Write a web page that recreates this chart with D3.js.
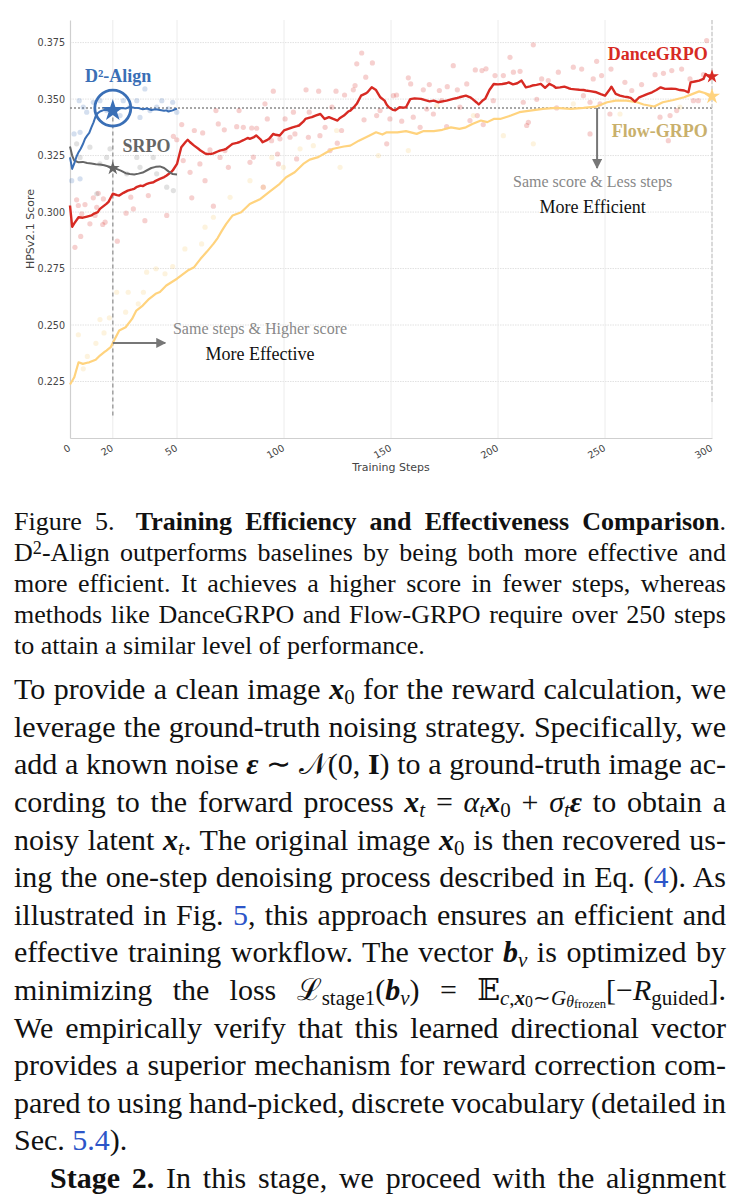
<!DOCTYPE html>
<html>
<head>
<meta charset="utf-8">
<script src="https://cdn.jsdelivr.net/npm/d3@7"></script>
<style>
  body { margin: 0; background: #fff; width: 740px; height: 1196px; overflow: hidden; position: relative;
         font-family: "Liberation Serif", "Times New Roman", serif; color: #111; }
  #chart { position: absolute; left: 0; top: 0; }
  .ln { position: absolute; left: 14px; width: 712px; white-space: nowrap; }
  .cap { font-size: 26px; line-height: 31px; }
  .body { font-size: 30px; line-height: 37.6px; }
  .ln span.t { display: inline-block; }
  sub { font-size: 0.7em; vertical-align: -0.22em; line-height: 0; }
  sub sub { font-size: 0.75em; vertical-align: -0.15em; }
  sub sub sub { font-size: 0.8em; vertical-align: -0.1em; }
  sup { font-size: 0.7em; vertical-align: 0.4em; line-height: 0; }
  .lk { color: #2c55c8; }
  .bi { font-weight: bold; font-style: italic; }
  .m { font-family: "DejaVu Serif", "Liberation Serif", serif; }
</style>
</head>
<body>
<svg id="chart"></svg>

<div class="ln cap j" style="top:506px"><span class="t">Figure 5.<span style="margin-left:8px"></span> <b>Training Efficiency and Effectiveness Comparison</b>.</span></div>
<div class="ln cap j" style="top:537px"><span class="t">D<sup>2</sup>-Align outperforms baselines by being both more effective and</span></div>
<div class="ln cap j" style="top:568px"><span class="t">more efficient. It achieves a higher score in fewer steps, whereas</span></div>
<div class="ln cap j" style="top:599px"><span class="t">methods like DanceGRPO and Flow-GRPO require over 250 steps</span></div>
<div class="ln cap" style="top:630px"><span class="t">to attain a similar level of performance.</span></div>

<div class="ln body j" style="top:670px"><span class="t">To provide a clean image <span class="bi">x</span><sub>0</sub> for the reward calculation, we</span></div>
<div class="ln body j" style="top:708px"><span class="t">leverage the ground-truth noising strategy. Specifically, we</span></div>
<div class="ln body j" style="top:745px"><span class="t">add a known noise <span class="bi">ε</span> ∼ <span class="m">𝒩</span>(0, <b>I</b>) to a ground-truth image ac-</span></div>
<div class="ln body j" style="top:783px"><span class="t">cording to the forward process <span class="bi">x</span><sub><i>t</i></sub> = <i>α</i><sub><i>t</i></sub><span class="bi">x</span><sub>0</sub> + <i>σ</i><sub><i>t</i></sub><span class="bi">ε</span> to obtain a</span></div>
<div class="ln body j" style="top:821px"><span class="t">noisy latent <span class="bi">x</span><sub><i>t</i></sub>. The original image <span class="bi">x</span><sub>0</sub> is then recovered us-</span></div>
<div class="ln body j" style="top:858px"><span class="t">ing the one-step denoising process described in Eq. (<span class="lk">4</span>). As</span></div>
<div class="ln body j" style="top:896px"><span class="t">illustrated in Fig. <span class="lk">5</span>, this approach ensures an efficient and</span></div>
<div class="ln body j" style="top:933px"><span class="t">effective training workflow. The vector <span class="bi">b</span><sub><i>v</i></sub> is optimized by</span></div>
<div class="ln body j" style="top:971px"><span class="t">minimizing the loss <span class="m">ℒ</span><sub>stage1</sub>(<span class="bi">b</span><sub><i>v</i></sub>) = <span class="m">𝔼</span><sub><i>c</i>,<span class="bi">x</span><sub>0</sub>∼<i>G</i><sub><i>θ</i><sub>frozen</sub></sub></sub>[−<i>R</i><sub>guided</sub>].</span></div>
<div class="ln body j" style="top:1009px"><span class="t">We empirically verify that this learned directional vector</span></div>
<div class="ln body j" style="top:1046px"><span class="t">provides a superior mechanism for reward correction com-</span></div>
<div class="ln body j" style="top:1084px"><span class="t">pared to using hand-picked, discrete vocabulary (detailed in</span></div>
<div class="ln body" style="top:1121px"><span class="t">Sec. <span class="lk">5.4</span>).</span></div>
<div class="ln body j" style="top:1159px;left:50px;width:676px"><span class="t"><b>Stage 2.</b> In this stage, we proceed with the alignment</span></div>

<script>
// ---- data ----
const xTicks = [0, 20, 50, 100, 150, 200, 250, 300];
const yTicks = [0.225, 0.25, 0.275, 0.3, 0.325, 0.35, 0.375];

const d2Align = [[0,0.3242],[1,0.3191],[2,0.3215],[3,0.3245],[4,0.3265],[5,0.3280],[6,0.3300],[7,0.3324],[8,0.3338],[9,0.3350],[10,0.3375],[11,0.3397],[12,0.3425],[13,0.3438],[14,0.3445],[16,0.3452],[18,0.3450],[20,0.3452],[22,0.3456],[24,0.3460],[26,0.3458],[28,0.3465],[30,0.3462],[32,0.3460],[34,0.3455],[36,0.3458],[38,0.3452],[40,0.3455],[42,0.3452],[44,0.3448],[45,0.3450],[46,0.3445],[48,0.3450],[49,0.3455],[50,0.3457]];

const srpo = [[0,0.3290],[1,0.3250],[2,0.3228],[4,0.3220],[6,0.3222],[8,0.3217],[10,0.3215],[12,0.3212],[14,0.3210],[16,0.3207],[18,0.3202],[20,0.3196],[22,0.3190],[24,0.3182],[26,0.3172],[28,0.3168],[30,0.3166],[32,0.3170],[34,0.3175],[36,0.3185],[38,0.3195],[40,0.3200],[42,0.3202],[44,0.3195],[46,0.3180],[48,0.3168],[50,0.3166]];

const danceGRPO = [[0,0.3029],[1,0.2935],[2,0.2950],[4,0.2977],[6,0.2975],[8,0.2980],[10,0.2985],[11,0.2992],[13,0.3000],[14,0.3014],[17,0.3036],[18,0.3045],[20,0.3081],[22,0.3075],[23,0.3073],[25,0.3085],[27,0.3095],[29,0.3100],[30,0.3103],[31,0.3110],[33,0.3117],[34,0.3115],[36,0.3125],[37,0.3128],[39,0.3132],[40,0.3138],[42,0.3147],[44,0.3155],[45,0.3161],[47,0.3175],[48,0.3184],[50,0.3213],[51,0.3250],[52,0.3287],[54,0.3310],[55,0.3320],[56,0.3310],[58,0.3294],[60,0.3280],[61,0.3272],[63,0.3260],[64,0.3257],[66,0.3258],[67,0.3260],[69,0.3268],[70,0.3272],[72,0.3276],[73,0.3280],[75,0.3295],[76,0.3302],[78,0.3306],[79,0.3309],[81,0.3318],[83,0.3328],[84,0.3324],[86,0.3332],[87,0.3339],[89,0.3322],[90,0.3309],[92,0.3318],[93,0.3324],[95,0.3346],[96,0.3342],[98,0.3339],[100,0.3361],[102,0.3368],[104,0.3375],[106,0.3380],[107,0.3383],[109,0.3400],[110,0.3412],[112,0.3418],[113,0.3420],[115,0.3428],[117,0.3434],[119,0.3412],[121,0.3420],[123,0.3412],[125,0.3405],[126,0.3415],[128,0.3427],[130,0.3445],[131,0.3449],[133,0.3468],[134,0.3479],[136,0.3515],[138,0.3524],[139,0.3530],[141,0.3552],[143,0.3540],[145,0.3508],[147,0.3493],[148,0.3475],[149,0.3464],[151,0.3452],[152,0.3450],[154,0.3464],[156,0.3462],[157,0.3464],[159,0.3500],[161,0.3503],[164,0.3501],[166,0.3495],[168,0.3490],[170,0.3493],[172,0.3486],[174,0.3490],[176,0.3493],[179,0.3501],[181,0.3505],[182,0.3508],[185,0.3515],[187,0.3508],[188,0.3501],[190,0.3485],[191,0.3476],[193,0.3495],[194,0.3501],[196,0.3540],[198,0.3567],[200,0.3565],[202,0.3567],[204,0.3570],[205,0.3574],[207,0.3565],[209,0.3570],[211,0.3582],[213,0.3552],[215,0.3556],[216,0.3560],[218,0.3563],[220,0.3567],[222,0.3550],[224,0.3567],[226,0.3558],[227,0.3550],[229,0.3552],[231,0.3555],[233,0.3548],[234,0.3545],[236,0.3543],[238,0.3541],[240,0.3540],[241,0.3538],[243,0.3535],[246,0.3530],[248,0.3522],[250,0.3515],[252,0.3540],[253,0.3555],[255,0.3523],[257,0.3515],[259,0.3511],[261,0.3508],[262,0.3505],[264,0.3489],[266,0.3508],[268,0.3515],[270,0.3523],[272,0.3530],[274,0.3540],[276,0.3552],[278,0.3545],[281,0.3546],[283,0.3545],[285,0.3540],[287,0.3538],[289,0.3530],[290,0.3574],[292,0.3578],[294,0.3582],[296,0.3589],[297,0.3611],[299,0.3596],[300,0.3600]];

const flowGRPO = [[0,0.2237],[2,0.2269],[4,0.2335],[6,0.2328],[8,0.2333],[9,0.2335],[12,0.2346],[14,0.2365],[16,0.2380],[17,0.2387],[19,0.2402],[21,0.2439],[23,0.2476],[26,0.2490],[29,0.2527],[31,0.2564],[34,0.2586],[37,0.2616],[40,0.2638],[42,0.2646],[45,0.2675],[50,0.2705],[55,0.2741],[58,0.2756],[61,0.2793],[64,0.2825],[67,0.2859],[69,0.2885],[71,0.2918],[73,0.2948],[76,0.2985],[80,0.2999],[84,0.3036],[89,0.3058],[93,0.3088],[98,0.3125],[101,0.3154],[105,0.3176],[109,0.3213],[112,0.3232],[116,0.3243],[120,0.3265],[123,0.3280],[128,0.3290],[131,0.3294],[135,0.3316],[140,0.3339],[143,0.3353],[146,0.3343],[148,0.3353],[153,0.3353],[157,0.3358],[162,0.3346],[165,0.3358],[170,0.3358],[174,0.3364],[178,0.3375],[182,0.3368],[185,0.3375],[188,0.3390],[192,0.3405],[195,0.3398],[198,0.3412],[201,0.3412],[206,0.3427],[210,0.3442],[215,0.3449],[221,0.3457],[227,0.3461],[234,0.3457],[240,0.3461],[246,0.3467],[251,0.3486],[255,0.3493],[260,0.3493],[265,0.3486],[268,0.3476],[273,0.3467],[277,0.3486],[282,0.3496],[287,0.3508],[291,0.3523],[294,0.3534],[297,0.3526],[300,0.3515]];

// raw (unsmoothed) samples, drawn as faint dots
const d2Raw = [[0.8,0.3139],[1.9,0.3346],[4.3,0.3493],[4.7,0.3353],[4.7,0.3147],[6.2,0.3464],[7.8,0.3442],[10.9,0.3486],[14,0.3493],[17.1,0.3449],[23.4,0.3427],[24.9,0.3493],[28,0.3464],[31.2,0.3493],[32.7,0.3419],[35,0.3545],[37.4,0.3449],[40.5,0.3464],[42.9,0.3493],[45.9,0.3457],[48,0.3486],[49.9,0.3442]];
const srpoRaw = [[3.1,0.3302],[4.7,0.3242],[9.3,0.3287],[12.5,0.3081],[14,0.3213],[17.1,0.3242],[18.7,0.3280],[26.5,0.3169],[31.2,0.3242],[32.7,0.3198],[38.9,0.3242],[40.5,0.3169],[45.2,0.3110],[48.3,0.3095]];
const danceRaw = [[2.3,0.2844],[3.1,0.3054],[3.9,0.3029],[5.0,0.2892],[5.5,0.2992],[7.0,0.3033],[9.3,0.2948],[10.9,0.3063],[11.7,0.2985],[12.5,0.3021],[13.2,0.3083],[15.3,0.2945],[15.6,0.3058],[16.4,0.2955],[22.1,0.2871],[26.2,0.2995],[28.4,0.3066],[29.6,0.3014],[35,0.2962],[36.6,0.3073],[45.2,0.2985],[48.3,0.3335],[49.9,0.3320],[52.2,0.3387],[52.9,0.3228],[56.1,0.3176],[56.9,0.3063],[58.1,0.3361],[60.7,0.3213],[62,0.3350],[63.1,0.3139],[65.4,0.3275],[67,0.3026],[68.2,0.3449],[69.3,0.3390],[70.1,0.3242],[72.1,0.3364],[72.4,0.3272],[74,0.3198],[77.9,0.3378],[79,0.3449],[81,0.3375],[84.1,0.3220],[84.9,0.3372],[85.7,0.3243],[87.2,0.3371],[90.3,0.3110],[91.1,0.3479],[92.2,0.3412],[94.2,0.3316],[95,0.3535],[97,0.3257],[97.4,0.3213],[98.1,0.3324],[100.5,0.3412],[102.8,0.3331],[104.4,0.3442],[105.1,0.3346],[105.9,0.3235],[110.3,0.3541],[111.4,0.3331],[111.8,0.3442],[116.2,0.3535],[116.8,0.3338],[119.2,0.3375],[121.5,0.3272],[122.4,0.3464],[124.3,0.3535],[124.9,0.3305],[126.9,0.3361],[128.3,0.3518],[132.4,0.3541],[133.2,0.3560],[134,0.3656],[136.3,0.3704],[137.4,0.3408],[138.2,0.3597],[141.3,0.3660],[143.3,0.3427],[144.9,0.3449],[148,0.3302],[149.5,0.3412],[151.1,0.3515],[152.6,0.3518],[155,0.3402],[158.1,0.3594],[159.2,0.3567],[160.4,0.3420],[163.6,0.3375],[165.1,0.3541],[166.7,0.3456],[167.9,0.3564],[169.8,0.3434],[172.6,0.3538],[173.7,0.3493],[176,0.3378],[176.3,0.3555],[179.1,0.3648],[181,0.3541],[182.2,0.3464],[185.4,0.3567],[186.9,0.3405],[189.4,0.3629],[190.3,0.3427],[192.5,0.3626],[193.1,0.3387],[194.4,0.3634],[197.8,0.3493],[198.6,0.3604],[202.5,0.3604],[205.6,0.3685],[207.2,0.3619],[210.3,0.3623],[211.8,0.3486],[213.4,0.3383],[214.2,0.3397],[216.5,0.3740],[218.1,0.3499],[220.4,0.3589],[223.5,0.3582],[227.4,0.3461],[228.2,0.3619],[235.2,0.3641],[239.1,0.3633],[239.9,0.3515],[243,0.3486],[243,0.3346],[244.5,0.3589],[246.1,0.3667],[247.7,0.3479],[248.4,0.3604],[252.3,0.3434],[252.8,0.3633],[259.3,0.3574],[262.5,0.3538],[267.1,0.3564],[273.4,0.3608],[275.7,0.3420],[277.3,0.3614],[279.6,0.3316],[280.4,0.3427],[281.2,0.3626],[283.5,0.3449],[285.8,0.3633],[289.7,0.3589],[291.3,0.3493],[293.6,0.3493],[296,0.3608],[297.5,0.3759]];
const flowRaw = [[3.9,0.2457],[6.2,0.2306],[8.1,0.2361],[12.1,0.2419],[14,0.2524],[15.9,0.2465],[18.4,0.2532],[21.8,0.2645],[26,0.2557],[27.2,0.2645],[31.9,0.2594],[34.3,0.2645],[35.8,0.2734],[40.2,0.2749],[44.4,0.2727],[48,0.2759],[53.7,0.2837],[61.5,0.2859],[63.1,0.2933],[67,0.2977],[74.8,0.3065],[84.1,0.3139],[90.3,0.3110],[94.3,0.3242],[99.7,0.3198],[107.5,0.3280],[113.7,0.3294],[124.6,0.3361],[126.2,0.3198],[144.1,0.3250],[158.1,0.3272],[171.4,0.3471],[188.5,0.3427],[202.5,0.3338],[216.5,0.3302],[235.2,0.3479],[257,0.3434],[285,0.3464]];

const refScore = 0.346;   // D2-Align plateau, dotted reference line

// ---- chart ----
const W = 740, H = 480;
const svg = d3.select('#chart').attr('width', W).attr('height', H);
const x = d3.scaleLinear().domain([0, 300]).range([70, 712]);
const y = d3.scaleLinear().domain([0.2, 0.385]).range([438, 20]);

const BLUE = '#3a6fb6', RED = '#d72a23', GRAY = '#666666', YEL = '#ffd37e';

// grid
svg.append('g').selectAll('line').data(yTicks).join('line')
  .attr('x1', x(0)).attr('x2', x(300))
  .attr('y1', d => y(d)).attr('y2', d => y(d))
  .attr('stroke', '#e2e2e2').attr('stroke-width', 1).attr('stroke-dasharray', '1.5,1');
svg.append('g').selectAll('line').data(xTicks.slice(1)).join('line')
  .attr('x1', d => x(d)).attr('x2', d => x(d))
  .attr('y1', y(0.2)).attr('y2', y(0.385))
  .attr('stroke', '#ececec').attr('stroke-width', 1);

// axes
const yAxis = svg.append('g').attr('transform', `translate(${x(0)},0)`)
  .call(d3.axisLeft(y).tickValues(yTicks).tickFormat(d3.format('.3f')).tickSize(0).tickSizeOuter(0).tickPadding(5));
const xAxis = svg.append('g').attr('transform', `translate(0,${y(0.2)})`)
  .call(d3.axisBottom(x).tickValues(xTicks).tickSize(0).tickSizeOuter(0));
[yAxis, xAxis].forEach(g => {
  g.select('.domain').attr('stroke', '#cfcfcf').attr('stroke-width', 1.2);
  g.selectAll('text').attr('font-family', 'DejaVu Sans, sans-serif').attr('font-size', 9.6).attr('fill', '#444');
});
xAxis.selectAll('text')
  .attr('y', 0).attr('dy', '0.35em').attr('text-anchor', 'end')
  .attr('transform', 'translate(-1,9) rotate(-30)');

svg.append('text').attr('x', x(150)).attr('y', 471).attr('text-anchor', 'middle')
  .attr('font-family', 'DejaVu Sans, sans-serif').attr('font-size', 11).attr('fill', '#444')
  .text('Training Steps');
svg.append('text').attr('transform', `translate(34,${(y(0.2) + y(0.385)) / 2}) rotate(-90)`)
  .attr('text-anchor', 'middle')
  .attr('font-family', 'DejaVu Sans, sans-serif').attr('font-size', 11).attr('fill', '#444')
  .text('HPSv2.1 Score');

// reference lines
svg.append('line').attr('x1', x(0)).attr('x2', x(300)).attr('y1', y(refScore)).attr('y2', y(refScore))
  .attr('stroke', '#8a8a8a').attr('stroke-width', 1.5).attr('stroke-dasharray', '2,2');
svg.append('line').attr('x1', x(20)).attr('x2', x(20)).attr('y1', y(0.3449)).attr('y2', y(0.2086))
  .attr('stroke', '#a0a0a0').attr('stroke-width', 1.5).attr('stroke-dasharray', '4,3');
svg.append('line').attr('x1', x(300)).attr('x2', x(300)).attr('y1', y(0.385)).attr('y2', y(0.2157))
  .attr('stroke', '#d0d0d0').attr('stroke-width', 1.5).attr('stroke-dasharray', '4,2');

// raw dots
const dots = [[danceRaw, RED, 0.22], [flowRaw, '#f5c86a', 0.22], [d2Raw, BLUE, 0.22], [srpoRaw, '#888', 0.25]];
dots.forEach(([data, c, op]) => {
  svg.append('g').selectAll('circle').data(data).join('circle')
    .attr('cx', d => x(d[0])).attr('cy', d => y(d[1])).attr('r', 2.6)
    .attr('fill', c).attr('opacity', op);
});

// smoothed curves
const line = d3.line().x(d => x(d[0])).y(d => y(d[1]));
[[flowGRPO, YEL, 2.2], [danceGRPO, RED, 2.4], [srpo, GRAY, 2], [d2Align, BLUE, 2]].forEach(([data, c, w]) => {
  svg.append('path').datum(data).attr('d', line)
    .attr('fill', 'none').attr('stroke', c).attr('stroke-width', w).attr('stroke-linejoin', 'round');
});

// stars
const star = s => d3.symbol().type(d3.symbolStar).size(s)();
[[20, 0.3449, BLUE, 150], [20, 0.3194, GRAY, 60], [300, 0.3600, RED, 60], [300, 0.3512, YEL, 80]].forEach(([sx, sv, c, s]) => {
  svg.append('path').attr('d', star(s)).attr('transform', `translate(${x(sx)},${y(sv)})`).attr('fill', c);
});
svg.append('circle').attr('cx', x(20)).attr('cy', y(refScore)).attr('r', 18)
  .attr('fill', 'none').attr('stroke', BLUE).attr('stroke-width', 2.8);

// arrows
svg.append('defs').append('marker').attr('id', 'ah').attr('viewBox', '0 0 10 10')
  .attr('refX', 9).attr('refY', 5).attr('markerWidth', 5).attr('markerHeight', 5).attr('orient', 'auto')
  .append('path').attr('d', 'M0,0L10,5L0,10z').attr('fill', '#777');
svg.append('line').attr('x1', x(20)).attr('x2', x(44.5)).attr('y1', y(0.2421)).attr('y2', y(0.2421))
  .attr('stroke', '#777').attr('stroke-width', 2).attr('marker-end', 'url(#ah)');
svg.append('line').attr('x1', x(246.3)).attr('x2', x(246.3)).attr('y1', y(refScore)).attr('y2', y(0.3195))
  .attr('stroke', '#777').attr('stroke-width', 2).attr('marker-end', 'url(#ah)');

// text annotations
const serif = 'Liberation Serif, Times New Roman, serif';
const notes = [
  { t: 'D²-Align', s: 7, v: 0.3574, anchor: 'start', c: BLUE, fs: 18, b: true },
  { t: 'SRPO', s: 24.5, v: 0.3265, anchor: 'start', c: '#666', fs: 18, b: true },
  { t: 'DanceGRPO', s: 298, v: 0.3673, anchor: 'end', c: RED, fs: 18, b: true },
  { t: 'Flow-GRPO', s: 298, v: 0.3334, anchor: 'end', c: '#c9b06c', fs: 18, b: true },
  { t: 'Same score & Less steps', s: 244.2, v: 0.3113, anchor: 'middle', c: '#888', fs: 16, b: false },
  { t: 'More Efficient', s: 244.2, v: 0.2998, anchor: 'middle', c: '#111', fs: 18, b: false },
  { t: 'Same steps & Higher score', s: 88.8, v: 0.2461, anchor: 'middle', c: '#888', fs: 16, b: false },
  { t: 'More Effective', s: 88.8, v: 0.2344, anchor: 'middle', c: '#111', fs: 18, b: false }
];
svg.append('g').selectAll('text').data(notes).join('text')
  .attr('x', d => x(d.s)).attr('y', d => y(d.v)).attr('text-anchor', d => d.anchor)
  .attr('font-family', serif).attr('font-size', d => d.fs)
  .attr('font-weight', d => d.b ? 'bold' : 'normal').attr('fill', d => d.c)
  .text(d => d.t);

// ---- justify text lines to the column width ----
document.querySelectorAll('.ln.j').forEach(el => {
  const sp = el.querySelector('span.t');
  const w = sp.getBoundingClientRect().width;
  const n = (sp.textContent.match(/ /g) || []).length;
  if (n) el.style.wordSpacing = ((el.clientWidth - w) / n) + 'px';
});
</script>
</body>
</html>
